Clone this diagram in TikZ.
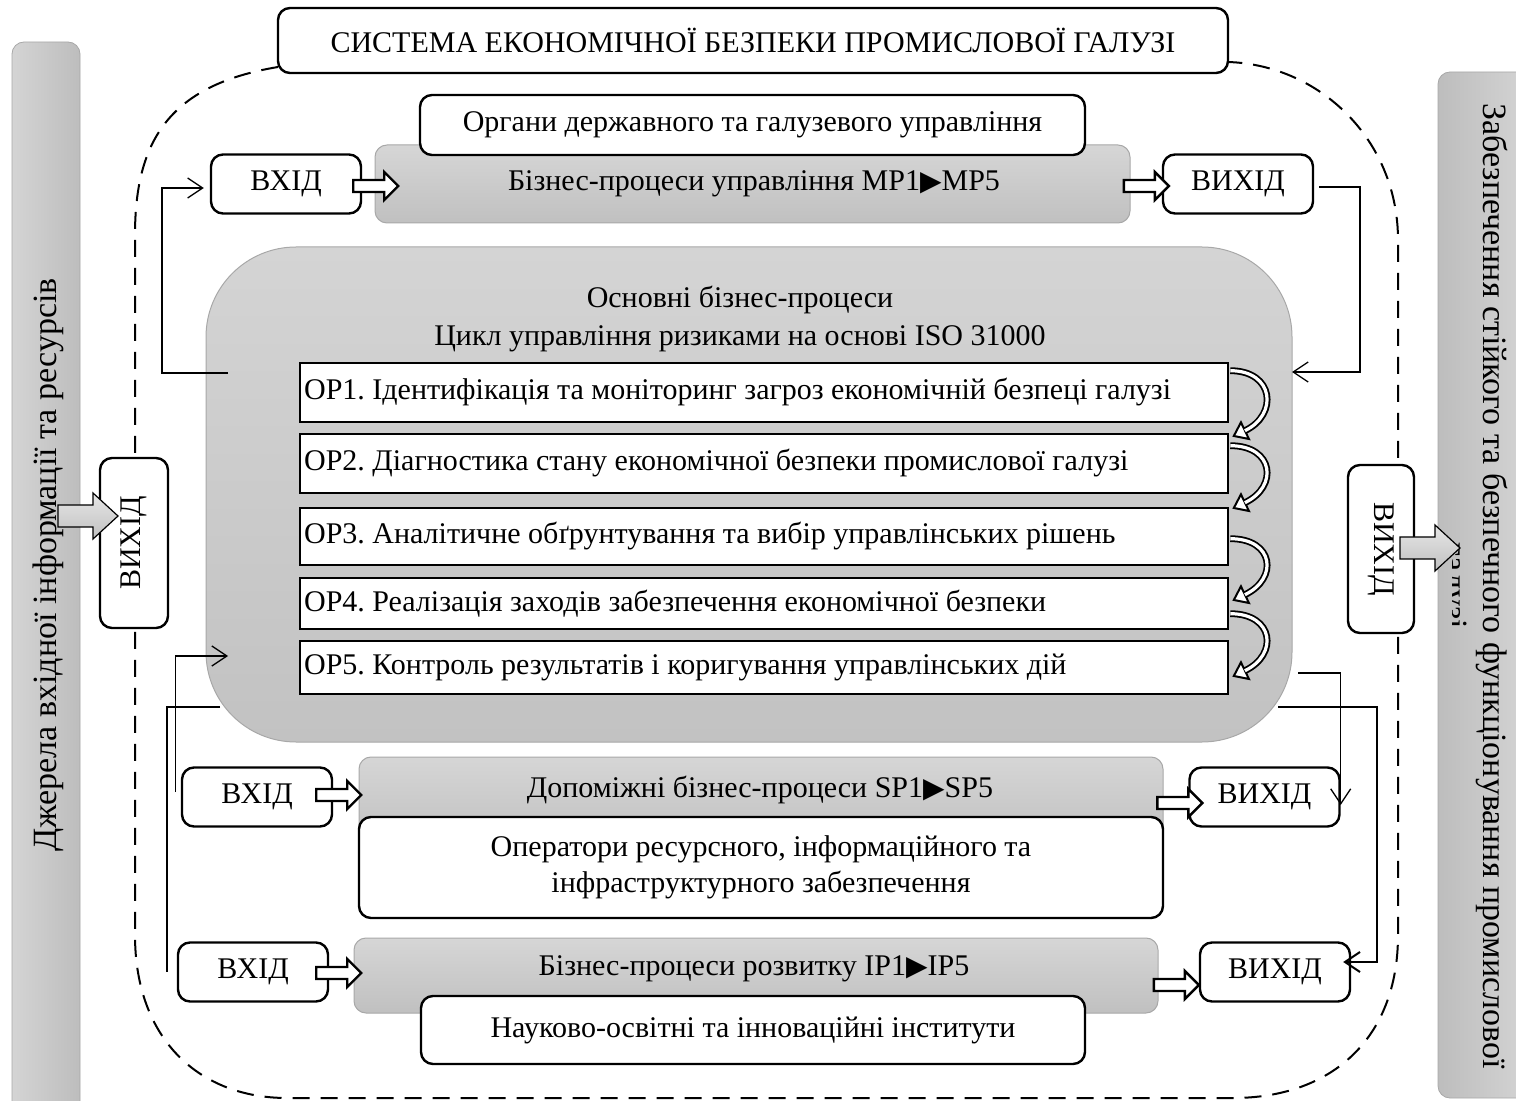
\documentclass[tikz,border=0pt]{standalone}
\usepackage{fontspec}
\setmainfont{Liberation Serif}
\newfontfamily\pointerfont{DejaVu Sans}
\newcommand\pointer{{\pointerfont\fontsize{14pt}{14pt}\selectfont ▶}}
\frenchspacing
\usetikzlibrary{arrows.meta,calc}

\definecolor{shTop}{HTML}{D6D6D6}
\definecolor{shBot}{HTML}{C0C0C0}
\definecolor{coreTop}{HTML}{D4D4D4}
\definecolor{coreBot}{HTML}{C2C2C2}
\definecolor{edgeGray}{HTML}{A8A8A8}
\definecolor{barLight}{HTML}{D4D4D4}
\definecolor{barDark}{HTML}{BDBDBD}

% hollow block arrow: tail point, tip point (same height)
\newcommand\hollowarrow[2]{%
  \draw[line width=1.2pt, fill=white, line join=miter]
    let \p1=(#1), \p2=(#2) in
    (\x1,\y1+3pt) -- (\x2-7pt,\y1+3pt) -- (\x2-7pt,\y1+7pt) -- (\x2,\y1)
    -- (\x2-7pt,\y1-7pt) -- (\x2-7pt,\y1-3pt) -- (\x1,\y1-3pt) -- cycle;}

% wide shaded block arrow between the side bars and the exit boxes
\newcommand\bigarrow[2]{%
  \draw[line width=0.6pt, top color=shTop!60!white, bottom color=shBot, line join=miter]
    let \p1=(#1), \p2=(#2) in
    (\x1,\y1+5.5pt) -- (\x2-12.5pt,\y1+5.5pt) -- (\x2-12.5pt,\y1+11.5pt) -- (\x2,\y1)
    -- (\x2-12.5pt,\y1-11.5pt) -- (\x2-12.5pt,\y1-5.5pt) -- (\x1,\y1-5.5pt) -- cycle;}

% curved hollow arrow between two consecutive stages
\newcommand\cyclearrow[2]{%
  \draw[line width=3.4pt, -{Triangle[length=7.5pt,width=11pt,line width=1pt,fill=white]}]
    (#1) .. controls ($(#1)+(44,0)$) and ($(#2)+(46,-22)$) .. (#2);
  \draw[white, line width=1.6pt, shorten >=7pt]
    (#1) .. controls ($(#1)+(44,0)$) and ($(#2)+(46,-22)$) .. (#2);}

\begin{document}
\begin{tikzpicture}[x=0.5pt,y=-0.5pt,
  every node/.style={font=\fontsize{15pt}{19pt}\selectfont, inner sep=0pt},
  sidefont/.style={font=\fontsize{17pt}{20pt}\selectfont},
  whitebox/.style={draw, line width=1.2pt, fill=white, rounded corners=6pt},
  iobox/.style={whitebox, minimum width=75pt, minimum height=29.5pt},
  opbox/.style={draw, line width=1.3pt, fill=white, minimum width=464pt},
  procbox/.style={draw=edgeGray, line width=0.5pt, rounded corners=6pt,
    top color=shTop, bottom color=shBot},
  sidebar/.style={draw=edgeGray, line width=0.4pt, rounded corners=6pt},
  boundary/.style={line width=1pt, dash pattern=on 8.5pt off 5.5pt},
  conn/.style={line width=0.65pt},
  connthick/.style={line width=1pt},
  barb/.style={-{Straight Barb[length=7.5pt,width=10pt]}},
]
\useasboundingbox (0,0) rectangle (1516,1101);
\clip (0,0) rectangle (1516,1101);

% side bars
\node[sidebar, left color=barLight, right color=barDark,
      minimum width=34pt, minimum height=544pt] (srcBar) at (46,586) {};
\node[sidefont, rotate=90, anchor=base] (srcText) at (56,565)
  {Джерела вхідної інформації та ресурсів};
\node[sidebar, left color=barDark, right color=barLight,
      minimum width=45pt, minimum height=513pt] (goalBar) at (1483,585) {};
\node[sidefont, rotate=-90, anchor=base] (goalText) at (1483,586)
  {Забезпечення стійкого та безпечного функціонування промислової};
\begin{scope}
  \clip (1452,480) rectangle (1475,700);
  \node[sidefont, rotate=-90, anchor=base] (goalTail) at (1444,586) {галузі};
\end{scope}

% system boundary
\draw[boundary] (278,67) .. controls (170,85) and (135,140) .. (135,235)
  -- (135,935) .. controls (135,1040) and (200,1098) .. (287,1098)
  -- (1233,1098) .. controls (1330,1098) and (1398,1040) .. (1398,935)
  -- (1398,240) .. controls (1398,140) and (1320,65) .. (1228,62);

\node[whitebox, minimum width=475pt, minimum height=32.5pt] (title) at (753,40.5)
  {СИСТЕМА ЕКОНОМІЧНОЇ БЕЗПЕКИ ПРОМИСЛОВОЇ ГАЛУЗІ};

% management processes
\node[procbox, minimum width=377.5pt, minimum height=39pt] (mp) at (752.5,184) {};
\node (mpText) at (754,184) {Бізнес-процеси управління MP1\pointer MP5};
\node[whitebox, minimum width=332.5pt, minimum height=30pt] (organs) at (752.5,125)
  {Органи державного та галузевого управління};
\node[iobox] (vin1) at (286,184) {ВХІД};
\node[iobox] (vout1) at (1238,184) {ВИХІД};

% core processes
\node[draw=edgeGray, line width=0.5pt, rounded corners=45pt, top color=coreTop,
      bottom color=coreBot, minimum width=543pt, minimum height=247.5pt]
  (core) at (749,494.5) {};
\node[align=center] (coreText) at (740,319)
  {Основні бізнес-процеси\\Цикл управління ризиками на основі ISO 31000};

\node[opbox, minimum height=29.5pt] (op1) at (764,392.5) {};
\node[opbox, minimum height=29.5pt] (op2) at (764,463.5) {};
\node[opbox, minimum height=28.5pt] (op3) at (764,536.5) {};
\node[opbox, minimum height=25.5pt] (op4) at (764,603.5) {};
\node[opbox, minimum height=26.5pt] (op5) at (764,667.5) {};
\node[anchor=west] (op1t) at ([xshift=2.5pt]op1.west)
  {OP1. Ідентифікація та моніторинг загроз економічній безпеці галузі};
\node[anchor=west] (op2t) at ([xshift=2.5pt]op2.west)
  {OP2. Діагностика стану економічної безпеки промислової галузі};
\node[anchor=west] (op3t) at ([xshift=2.5pt]op3.west)
  {OP3. Аналітичне обґрунтування та вибір управлінських рішень};
\node[anchor=west] (op4t) at ([xshift=2.5pt]op4.west)
  {OP4. Реалізація заходів забезпечення економічної безпеки};
\node[anchor=west] (op5t) at ([xshift=2.5pt]op5.west)
  {OP5. Контроль результатів і коригування управлінських дій};

\coordinate (c1s) at ($(op1.north east)+(1,9)$);
\coordinate (c1e) at ($(op2.north east)+(3,4)$);
\coordinate (c2s) at ($(op2.north east)+(1,13)$);
\coordinate (c2e) at ($(op3.north east)+(3,2)$);
\coordinate (c3s) at ($(op3.north east)+(1,32)$);
\coordinate (c3e) at ($(op4.north east)+(3,24)$);
\coordinate (c4s) at ($(op4.north east)+(1,37)$);
\coordinate (c4e) at ($(op5.north east)+(3,37)$);
\cyclearrow{c1s}{c1e}
\cyclearrow{c2s}{c2e}
\cyclearrow{c3s}{c3e}
\cyclearrow{c4s}{c4e}

% support processes
\node[procbox, minimum width=402pt, minimum height=44pt] (sp) at (761,801) {};
\node (spText) at (760,790) {Допоміжні бізнес-процеси SP1\pointer SP5};
\node[whitebox, minimum width=402pt, minimum height=50.5pt, align=center,
      font=\fontsize{15pt}{18pt}\selectfont] (operators) at (761,867.5)
  {Оператори ресурсного, інформаційного та\\інфраструктурного забезпечення};
\node[iobox] (vin2) at (257,797) {ВХІД};
\node[iobox] (vout2) at (1264.5,797) {ВИХІД};

% development processes
\node[procbox, minimum width=402pt, minimum height=37.5pt] (ip) at (756,975.5) {};
\node (ipText) at (754,969) {Бізнес-процеси розвитку IP1\pointer IP5};
\node[whitebox, minimum width=332pt, minimum height=34pt] (science) at (753,1030)
  {Науково-освітні та інноваційні інститути};
\node[iobox] (vin3) at (253,972) {ВХІД};
\node[iobox] (vout3) at (1275,972) {ВИХІД};

% exits on the boundary
\node[whitebox, rotate=90, minimum width=85pt, minimum height=34pt] (vL) at (134,543) {ВИХІД};
\node[whitebox, rotate=-90, minimum width=84pt, minimum height=33pt] (vR) at (1381,549) {ВИХІД};
\bigarrow{$(vL.center)+(-76,-27)$}{$(vL.center)+(-16,-27)$}
\bigarrow{$(vR.center)+(19,-1)$}{$(vR.center)+(79,-1)$}

% block arrows into and out of the process groups
\hollowarrow{$(vin1.east)+(-9,2)$}{$(vin1.east)+(36,2)$}
\hollowarrow{$(vout1.west)+(-38,2)$}{$(vout1.west)+(7,2)$}
\hollowarrow{$(vin2.east)+(-17,-2)$}{$(vin2.east)+(28,-2)$}
\hollowarrow{$(vout2.west)+(-31,6)$}{$(vout2.west)+(14,6)$}
\hollowarrow{$(vin3.east)+(-13,1)$}{$(vin3.east)+(32,1)$}
\hollowarrow{$(vout3.west)+(-45,13)$}{$(vout3.west)+(0,13)$}

% feedback connectors
\coordinate (coreL1) at (228,373);
\coordinate (coreR1) at (1292,372);
\coordinate (coreR2) at (1298,673);
\coordinate (coreR3) at (1278,707);
\coordinate (coreL3) at (220,707);
\coordinate (coreL2) at (228,656);
\coordinate (ipFree) at (167,972);

\draw[conn, barb] (coreL1) -- (162,373) |- ([xshift=-3pt,yshift=-2pt]vin1.west);
\draw[conn, barb] ([xshift=2.5pt,yshift=-1.5pt]vout1.east) -| (1360,372) -- (coreR1);
\draw[conn, barb] (coreR2) -| ([yshift=-4pt]vout2.east);
\draw[connthick, barb] (coreR3) -- (1377,707) |- ([xshift=-4pt,yshift=5pt]vout3.east);
\draw[connthick] (coreL3) -| (ipFree);
\draw[conn, barb] ([xshift=-2.5pt,yshift=2.5pt]vin2.west) |- (coreL2);
\end{tikzpicture}
\end{document}
